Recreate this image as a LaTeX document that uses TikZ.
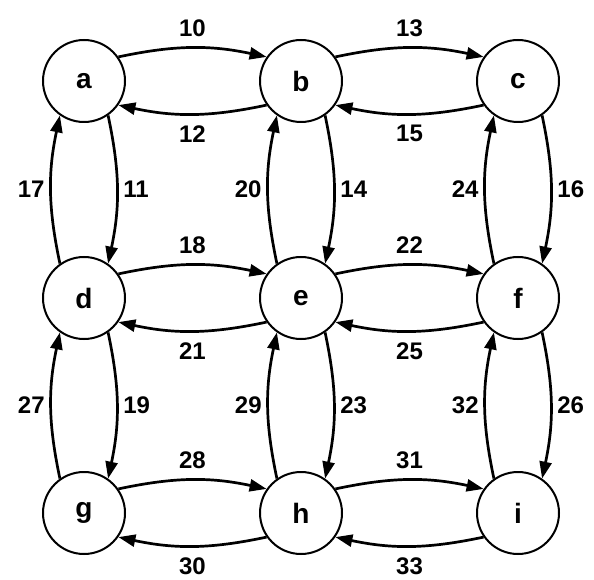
\documentclass[tikz,border=0pt]{standalone}
\usepackage{fontspec}
\setmainfont{Liberation Sans}
\usepackage{tikz}
\usetikzlibrary{arrows.meta}

\begin{document}
\begin{tikzpicture}[x=0.5pt, y=0.5pt,
    state/.style={circle, draw, line width=1pt, minimum size=41pt, inner sep=0pt,
        font=\fontsize{14}{14}\selectfont\bfseries},
    flow/.style={-{Triangle[length=8.5pt, width=6pt]}, line width=1.35pt, bend left=12},
    lab/.style={font=\fontsize{12}{12}\selectfont\bfseries, inner xsep=2.5pt, inner ysep=5pt}]
    \useasboundingbox (0,0) rectangle (594,579);

    % States on a 3x3 grid
    \foreach \n/\x/\y in {a/84/498, b/301/498, c/518/498,
                          d/84/281, e/301/281, f/518/281,
                          g/84/66, h/301/66, i/518/66} {
        \node[state] (\n) at (\x,\y) {\n};
    }

    % Horizontal pairs (upper goes right, lower goes left)
    \foreach \p/\q/\t/\u in {a/b/10/12, b/c/13/15, d/e/18/21,
                             e/f/22/25, g/h/28/30, h/i/31/33} {
        \draw[flow] (\p.35) to node[lab, above] {\t} (\q.145);
        \draw[flow] (\q.215) to node[lab, below] {\u} (\p.325);
    }

    % Vertical pairs (right goes down, left goes up)
    \foreach \p/\q/\t/\u in {a/d/11/17, b/e/14/20, c/f/16/24,
                             d/g/19/27, e/h/23/29, f/i/26/32} {
        \draw[flow] (\p.-55) to node[lab, right] {\t} (\q.55);
        \draw[flow] (\q.125) to node[lab, left] {\u} (\p.235);
    }
\end{tikzpicture}
\end{document}
